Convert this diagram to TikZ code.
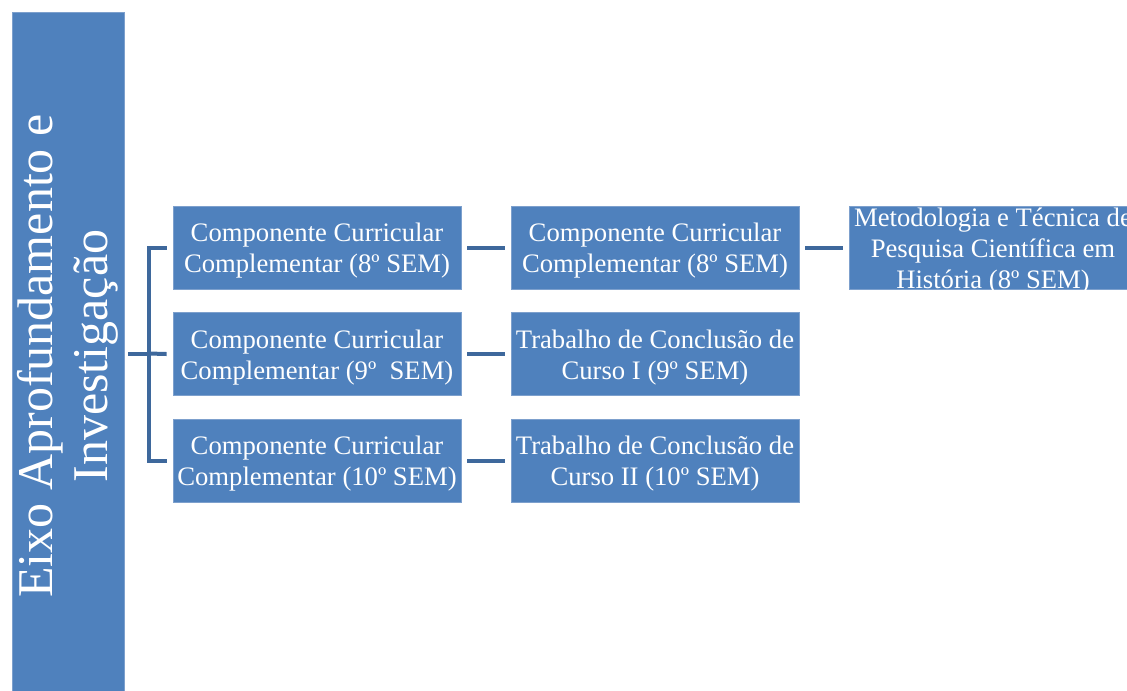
\documentclass[tikz,border=0pt]{standalone}
\usepackage{fontspec}
\setmainfont{Liberation Serif}
\usetikzlibrary{calc}
\definecolor{boxblue}{RGB}{79,129,189}
\definecolor{edgeblue}{RGB}{125,160,205}
\definecolor{connblue}{RGB}{62,104,156}
\newcommand{\topstrut}{\rule{0pt}{18.5pt}}
\begin{document}
\begin{tikzpicture}[x=0.75pt,y=-0.75pt,
  box/.style={rectangle, fill=boxblue, draw=edgeblue, line width=0.6pt,
    minimum width=216pt, minimum height=62.25pt, inner sep=0pt,
    align=center, text=white, font=\fontsize{20}{23.25}\selectfont},
  barbox/.style={rectangle, rotate=90, fill=boxblue, draw=edgeblue, line width=0.6pt,
    minimum width=516pt, minimum height=84pt, inner sep=0pt,
    align=center, text=white, font=\fontsize{37.5}{41.25}\selectfont},
  conn/.style={draw=connblue, line width=3pt}]
\useasboundingbox (0,0) rectangle (1127,690);
\clip (0,0) rectangle (1127,690);
\node[barbox] (bar) at (68,356) {Eixo Aprofundamento e\\Investigação};
\node[box] (a1) at (317,247.5) {\topstrut Componente Curricular\\Complementar (8º SEM)};
\node[box] (a2) at (317,354) {\topstrut Componente Curricular\\Complementar (9º~\ SEM)};
\node[box] (a3) at (317,460.5) {\topstrut Componente Curricular\\Complementar (10º SEM)};
\node[box] (b1) at (655,247.5) {\topstrut Componente Curricular\\Complementar (8º SEM)};
\node[box] (b2) at (655,354) {\topstrut Trabalho de Conclusão de\\Curso I (9º SEM)};
\node[box] (b3) at (655,460.5) {\topstrut Trabalho de Conclusão de\\Curso II (10º SEM)};
\node[box, inner ysep=-6pt] (c1) at (993,247.5) {\topstrut Metodologia e Técnica de\\Pesquisa Científica em\\História (8º SEM)};
\coordinate (bs) at (128,353.5);
\coordinate (j) at (148.5,353.5);
\draw[conn] (bs) -- (j);
\draw[conn] ($(a1.west)+(-6,0)$) -| (j) |- ($(a3.west)+(-6,0)$);
\draw[conn] (j) -- ($(a2.west)+(-6,0)$);
\draw[conn] ($(a1.east)+(6,0)$) -- ($(b1.west)+(-6,0)$);
\draw[conn] ($(a2.east)+(6,0)$) -- ($(b2.west)+(-6,0)$);
\draw[conn] ($(a3.east)+(6,0)$) -- ($(b3.west)+(-6,0)$);
\draw[conn] ($(b1.east)+(6,0)$) -- ($(c1.west)+(-6,0)$);
\end{tikzpicture}
\end{document}
